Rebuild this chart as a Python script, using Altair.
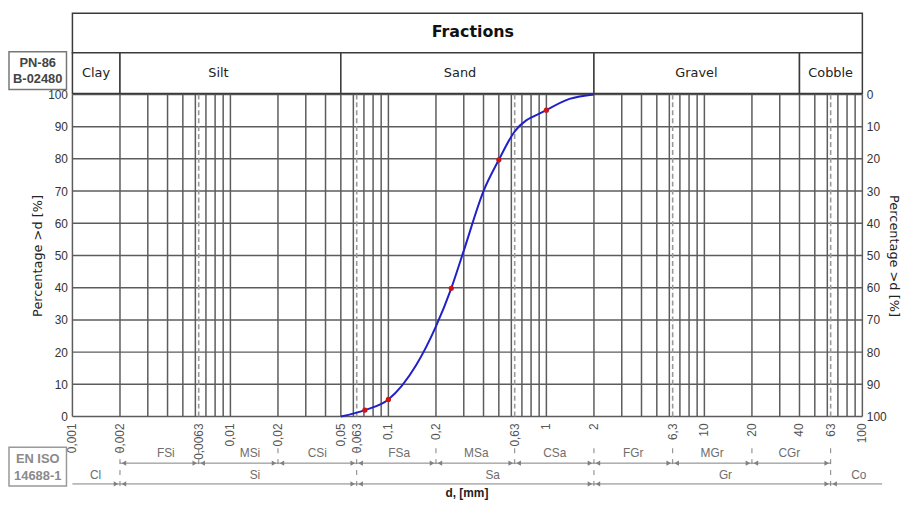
import altair as alt
import pandas as pd

# ---------------- data ----------------
curve_d = [0.05, 0.071, 0.1, 0.15, 0.2, 0.25, 0.3, 0.4, 0.5, 0.63, 1.0, 1.4, 2.0]
curve_p = [0, 2.0, 5.3, 16, 28, 39.8, 51.5, 70, 79.7, 88.5, 95.1, 98.6, 100]

sieve_d = [0.071, 0.1, 0.25, 0.5, 1.0]
sieve_p = [2.0, 5.3, 39.8, 79.7, 95.1]

x_tick_values = [0.001, 0.002, 0.0063, 0.01, 0.02, 0.05, 0.063, 0.1, 0.2, 0.63,
                 1, 2, 6.3, 10, 20, 40, 63, 100]
x_tick_labels = ["0,001", "0,002", "0,0063", "0,01", "0,02", "0,05", "0,063", "0,1", "0,2", "0,63",
                 "1", "2", "6,3", "10", "20", "40", "63", "100"]
y_tick_values = [0, 10, 20, 30, 40, 50, 60, 70, 80, 90, 100]

grid_major = [m * 10 ** k for k in range(-3, 2) for m in range(1, 10)] + [100]
grid_dashed = [0.0063, 0.063, 0.63, 6.3, 63]

pn_names = ["Clay", "Silt", "Sand", "Gravel", "Cobble"]
pn_lo = [0.001, 0.002, 0.05, 2, 40]
pn_hi = [0.002, 0.05, 2, 40, 100]
pn_label_d = [0.00141, 0.0084, 0.284, 8.9, 63]

iso1_names = ["FSi", "MSi", "CSi", "FSa", "MSa", "CSa", "FGr", "MGr", "CGr"]
iso1_bounds = [0.002, 0.0063, 0.02, 0.063, 0.2, 0.63, 2, 6.3, 20, 63]
iso1_label_d = [0.0039, 0.0133, 0.0355, 0.117, 0.36, 1.13, 3.55, 11.2, 34.5]

iso2_names = ["Cl", "Si", "Sa", "Gr", "Co"]
iso2_bounds = [0.002, 0.063, 2, 63]
iso2_label_d = [0.0014, 0.0143, 0.457, 13.6, 95]

# ---------------- geometry ----------------
W, H = 797, 325
xs = alt.Scale(type="log", domain=[0.001, 100], nice=False)
ys = alt.Scale(domain=[0, 100], nice=False, zero=False)
GRID = "#5c5c5c"
ANN = "#808080"
ANN_TXT = "#6e6e6e"
R1, R2 = 372, 393  # annotation rows (pixels below plot top)

one = pd.DataFrame({"k": [0]})


def label(text, x, y, **kw):
    return alt.Chart(one).mark_text(text=text, clip=False, **kw).encode(x=alt.value(x), y=alt.value(y))


vgrid = alt.Chart(pd.DataFrame({"d": grid_major})).mark_rule(color=GRID, strokeWidth=1.5).encode(
    x=alt.X("d:Q", scale=xs, axis=None), y=alt.value(0), y2=alt.value(H))

vdash = alt.Chart(pd.DataFrame({"d": grid_dashed})).mark_rule(
    color="#9a9a9a", strokeWidth=1.6, strokeDash=[5, 3]).encode(
    x=alt.X("d:Q", scale=xs, axis=None), y=alt.value(0), y2=alt.value(H))

hgrid = alt.Chart(pd.DataFrame({"p": y_tick_values})).mark_rule(color=GRID, strokeWidth=1.5).encode(
    y=alt.Y("p:Q", scale=ys, axis=alt.Axis(orient="left", values=y_tick_values, title="Percentage >d [%]",
                                            grid=False, ticks=False, domain=False, labelPadding=5,
                                            titlePadding=3)),
    x=alt.value(0), x2=alt.value(W))

right = alt.Chart(pd.DataFrame({"p": y_tick_values})).mark_rule(opacity=0).encode(
    y=alt.Y("p:Q", scale=alt.Scale(domain=[0, 100], reverse=True, nice=False, zero=False),
            axis=alt.Axis(orient="right", values=y_tick_values, title="Percentage >d [%]", grid=False,
                          ticks=False, domain=False, labelPadding=4, titlePadding=0)),
    x=alt.value(0), x2=alt.value(W))

xlabels = alt.Chart(pd.DataFrame({"d": x_tick_values, "t": x_tick_labels})).mark_text(
    angle=270, align="right", baseline="middle", font="Liberation Sans", fontSize=12, color="#555",
    clip=False).encode(x=alt.X("d:Q", scale=xs, axis=None), y=alt.value(H + 7), text="t:N")

curve = alt.Chart(pd.DataFrame({"d": curve_d, "p": curve_p})).mark_line(
    color="#2020c8", strokeWidth=2, interpolate="monotone").encode(
    x=alt.X("d:Q", scale=xs, axis=None), y=alt.Y("p:Q", scale=ys, axis=None))

dots = alt.Chart(pd.DataFrame({"d": sieve_d, "p": sieve_p})).mark_circle(
    color="#cc1515", size=28, opacity=1).encode(
    x=alt.X("d:Q", scale=xs, axis=None), y=alt.Y("p:Q", scale=ys, axis=None))

# ---------------- header ----------------
hdr_top = alt.Chart(one).mark_rect(fill="white", stroke="#3a3a3a", strokeWidth=1.5, clip=False).encode(
    x=alt.value(0), x2=alt.value(W), y=alt.value(-82), y2=alt.value(-42))
hdr_title = label("Fractions", 404, -63, font="DejaVu Sans", fontSize=16, fontWeight="bold", color="#111")
pn_df = pd.DataFrame({"name": pn_names, "lo": pn_lo, "hi": pn_hi, "pos": pn_label_d})
hdr_cells = alt.Chart(pn_df).mark_rect(fill="white", stroke="#3a3a3a", strokeWidth=1.5, clip=False).encode(
    x=alt.X("lo:Q", scale=xs, axis=None), x2="hi:Q", y=alt.value(-42), y2=alt.value(-1))
hdr_names = alt.Chart(pn_df).mark_text(font="DejaVu Sans", fontSize=13, color="#222", clip=False).encode(
    x=alt.X("pos:Q", scale=xs, axis=None), y=alt.value(-22), text="name:N")

pn_box = alt.Chart(one).mark_rect(fill="white", stroke="#777", strokeWidth=1.5, clip=False).encode(
    x=alt.value(-64), x2=alt.value(-6), y=alt.value(-43), y2=alt.value(-5))
pn_t1 = label("PN-86", -35, -32, font="Liberation Sans", fontSize=13, fontWeight="bold", color="#444")
pn_t2 = label("B-02480", -35, -16, font="Liberation Sans", fontSize=13, fontWeight="bold", color="#444")

# ---------------- EN ISO annotation ----------------
iso_box = alt.Chart(one).mark_rect(fill="white", stroke="#999", strokeWidth=1.5, clip=False).encode(
    x=alt.value(-64), x2=alt.value(-6), y=alt.value(356), y2=alt.value(395))
iso_t1 = label("EN ISO", -35, 368, font="Liberation Sans", fontSize=13, fontWeight="bold", color="#8a8a8a")
iso_t2 = label("14688-1", -35, 385, font="Liberation Sans", fontSize=13, fontWeight="bold", color="#8a8a8a")

row1_only = [b for b in iso1_bounds if b not in iso2_bounds]
dash1 = alt.Chart(pd.DataFrame({"d": row1_only})).mark_rule(color=ANN, strokeDash=[5, 6], clip=False).encode(
    x=alt.X("d:Q", scale=xs, axis=None), y=alt.value(R1 - 15), y2=alt.value(R1 + 3))
dash2 = alt.Chart(pd.DataFrame({"d": iso2_bounds})).mark_rule(color=ANN, strokeDash=[5, 6], clip=False).encode(
    x=alt.X("d:Q", scale=xs, axis=None), y=alt.value(R1 - 15), y2=alt.value(R2 + 3))

line1 = alt.Chart(pd.DataFrame({"a": [iso1_bounds[0]], "b": [iso1_bounds[-1]]})).mark_rule(
    color=ANN, strokeWidth=1, clip=False).encode(
    x=alt.X("a:Q", scale=xs, axis=None), x2="b:Q", y=alt.value(R1))
line2 = alt.Chart(one).mark_rule(color=ANN, strokeWidth=1, clip=False).encode(
    x=alt.value(0), x2=alt.value(817), y=alt.value(R2))


def arrows(vals, shape, off, y):
    return alt.Chart(pd.DataFrame({"d": vals})).mark_point(
        shape=shape, filled=True, size=28, color=ANN, opacity=1, xOffset=off, clip=False).encode(
        x=alt.X("d:Q", scale=xs, axis=None), y=alt.value(y))


arr1_r = arrows(iso1_bounds[1:], "triangle-right", -4, R1)
arr1_l = arrows(iso1_bounds[:-1], "triangle-left", 4, R1)
arr2_r = arrows(iso2_bounds, "triangle-right", -4, R2)
arr2_l = arrows(iso2_bounds, "triangle-left", 4, R2)

lab1 = alt.Chart(pd.DataFrame({"name": iso1_names, "pos": iso1_label_d})).mark_text(
    font="Liberation Sans", fontSize=12, color=ANN_TXT, clip=False).encode(
    x=alt.X("pos:Q", scale=xs, axis=None), y=alt.value(R1 - 10), text="name:N")
lab2 = alt.Chart(pd.DataFrame({"name": iso2_names, "pos": iso2_label_d})).mark_text(
    font="Liberation Sans", fontSize=12, color=ANN_TXT, clip=False).encode(
    x=alt.X("pos:Q", scale=xs, axis=None), y=alt.value(R2 - 9), text="name:N")

xtitle = label("d, [mm]", 398, 402, font="Liberation Sans", fontSize=12, fontWeight="bold", color="#222")

chart = alt.layer(
    vgrid, hgrid, right, vdash, xlabels, curve, dots,
    hdr_top, hdr_title, hdr_cells, hdr_names,
    pn_box, pn_t1, pn_t2, iso_box, iso_t1, iso_t2,
    dash1, dash2, line1, line2, arr1_r, arr1_l, arr2_r, arr2_l, lab1, lab2, xtitle,
).resolve_scale(y="independent").properties(
    width=W, height=H,
    autosize=alt.AutoSizeParams(type="none"),
    padding={"left": 65, "top": 85, "right": 41, "bottom": 82},
).configure_view(stroke=None).configure_axis(
    labelFont="Liberation Sans", labelFontSize=12, labelColor="#333",
    titleFont="DejaVu Sans", titleFontSize=13, titleFontWeight="normal", titleColor="#222")

chart.save("out.html", embed_options={"renderer": "svg", "actions": False})
